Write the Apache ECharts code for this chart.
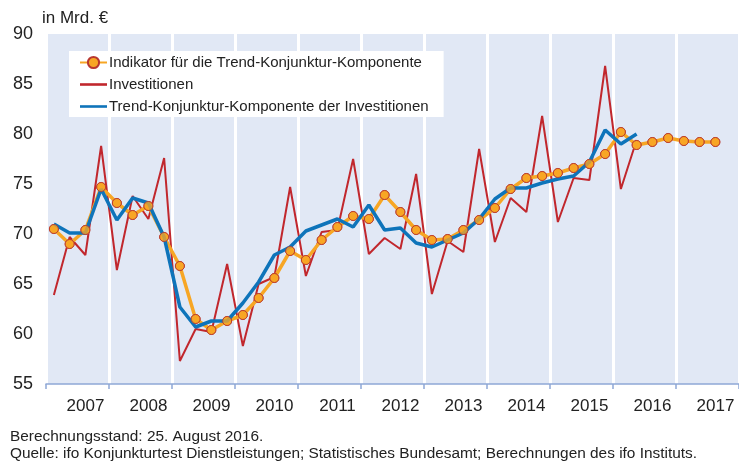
<!DOCTYPE html>
<html lang="de">
<head>
  <meta charset="utf-8">
</head>
<body style="height: 100%; margin: 0">
  <div id="container" style="width: 739px; height: 461px"></div>

  <script type="text/javascript" src="https://fastly.jsdelivr.net/npm/echarts@6/dist/echarts.min.js"></script>
  <script type="text/javascript">
    // Quartale 2007 Q1 .. 2017 Q4
    var years = ['2007', '2008', '2009', '2010', '2011', '2012', '2013', '2014', '2015', '2016', '2017'];
    var quarters = [];
    years.forEach(function (y) {
      for (var q = 1; q <= 4; q++) quarters.push(y + ' Q' + q);
    });

    var indikator = [70.5, 69.0, 70.4, 74.7, 73.1, 71.9, 72.8, 69.7,
      66.8, 61.5, 60.4, 61.3, 61.9, 63.6, 65.6, 68.3,
      67.4, 69.4, 70.7, 71.8, 71.5, 73.9, 72.2, 70.4,
      69.4, 69.5, 70.4, 71.4, 72.6, 74.5, 75.6, 75.8,
      76.1, 76.6, 77.0, 78.0, 80.2, 78.9, 79.2, 79.6,
      79.3, 79.2, 79.2];
    var investitionen = [63.9, 69.7, 67.9, 78.8, 66.4, 73.8, 71.5, 77.6,
      57.3, 60.5, 60.2, 67.0, 58.8, 65.0, 65.7, 74.7,
      65.8, 70.2, 70.4, 77.5, 68.0, 69.6, 68.5, 76.0,
      64.0, 69.3, 68.2, 78.5, 69.2, 73.6, 72.2, 81.8,
      71.2, 75.6, 75.4, 86.8, 74.5, 79.4];
    var trend = [71.0, 70.1, 70.1, 74.5, 71.4, 73.6, 73.1, 69.7,
      62.7, 60.7, 61.3, 61.3, 63.1, 65.2, 67.9, 68.7,
      70.3, 70.9, 71.5, 70.7, 72.9, 70.4, 70.6, 69.1,
      68.7, 69.4, 70.1, 71.5, 73.5, 74.6, 74.6, 75.1,
      75.5, 75.8, 77.2, 80.4, 79.0, 80.0];

    var names = [
      'Indikator für die Trend-Konjunktur-Komponente',
      'Investitionen',
      'Trend-Konjunktur-Komponente der Investitionen'
    ];

    var font = '"Liberation Sans", Arial, sans-serif';
    var orange = '#F7A624';
    var red = '#C1272D';
    var blue = '#0E74BA';
    var lineIcon = 'path://M0,0L27,0L27,2.6L0,2.6Z';

    var dom = document.getElementById('container');
    var myChart = echarts.init(dom, null, { renderer: 'canvas' });

    var option = {
      animation: false,
      textStyle: { fontFamily: font },
      title: [
        {
          text: 'in Mrd. €', left: 37, top: 5,
          textStyle: { fontSize: 17, fontWeight: 'normal', color: '#222', fontFamily: font }
        },
        {
          text: 'Berechnungsstand: 25. August 2016.\nQuelle: ifo Konjunkturtest Dienstleistungen; Statistisches Bundesamt; Berechnungen des ifo Instituts.',
          left: 5, top: 423,
          textStyle: { fontSize: 15.4, fontWeight: 'normal', color: '#222', lineHeight: 17, fontFamily: font }
        }
      ],
      legend: {
        data: [
          { name: names[0] },
          { name: names[1], icon: lineIcon },
          { name: names[2], icon: lineIcon }
        ],
        orient: 'vertical',
        left: 69, top: 51,
        padding: [4, 15, 3, 10],
        itemWidth: 27, itemHeight: 14, itemGap: 7,
        backgroundColor: '#fff',
        textStyle: { fontSize: 15, color: '#222', fontFamily: font, padding: [0, 0, 0, -3] }
      },
      grid: {
        left: 46, right: 0, top: 34, bottom: 77,
        show: true, backgroundColor: '#E1E8F5', borderWidth: 0
      },
      xAxis: [
        {
          type: 'category', data: quarters, boundaryGap: true, show: false
        },
        {
          type: 'category', data: years, boundaryGap: true, position: 'bottom',
          axisLine: { lineStyle: { color: '#8FA8D6', width: 1.5 } },
          axisTick: { show: true, length: 5, lineStyle: { color: '#8FA8D6', width: 1.5 } },
          axisLabel: { fontSize: 17, color: '#222', margin: 14, padding: [0, 0, 0, 16] },
          splitLine: { show: true, lineStyle: { color: '#ffffff', width: 3 } }
        }
      ],
      yAxis: {
        type: 'value', min: 55, max: 90, interval: 5,
        axisLine: { show: false }, axisTick: { show: false },
        splitLine: { show: false },
        axisLabel: { fontSize: 18, color: '#222', margin: 13 }
      },
      series: [
        {
          name: names[1], type: 'line', xAxisIndex: 0, data: investitionen,
          symbol: 'none', z: 2,
          lineStyle: { color: red, width: 2 }, itemStyle: { color: red }
        },
        {
          name: names[0], type: 'line', xAxisIndex: 0, data: indikator,
          symbol: 'circle', symbolSize: 9, z: 3,
          lineStyle: { color: orange, width: 3.5 },
          itemStyle: { color: orange, borderColor: '#B8372F', borderWidth: 1 }
        },
        {
          name: names[2], type: 'line', xAxisIndex: 0, data: trend,
          symbol: 'none', z: 4,
          lineStyle: { color: blue, width: 3.5 }, itemStyle: { color: blue }
        },
        {
          // Punkte des Indikators oben drauf
          name: 'marker', type: 'scatter', xAxisIndex: 0, data: indikator,
          symbol: 'circle', symbolSize: 9, z: 5,
          itemStyle: { color: orange, borderColor: '#B8372F', borderWidth: 1 }
        }
      ]
    };

    myChart.setOption(option);
    window.addEventListener('resize', myChart.resize);
  </script>
</body>
</html>
